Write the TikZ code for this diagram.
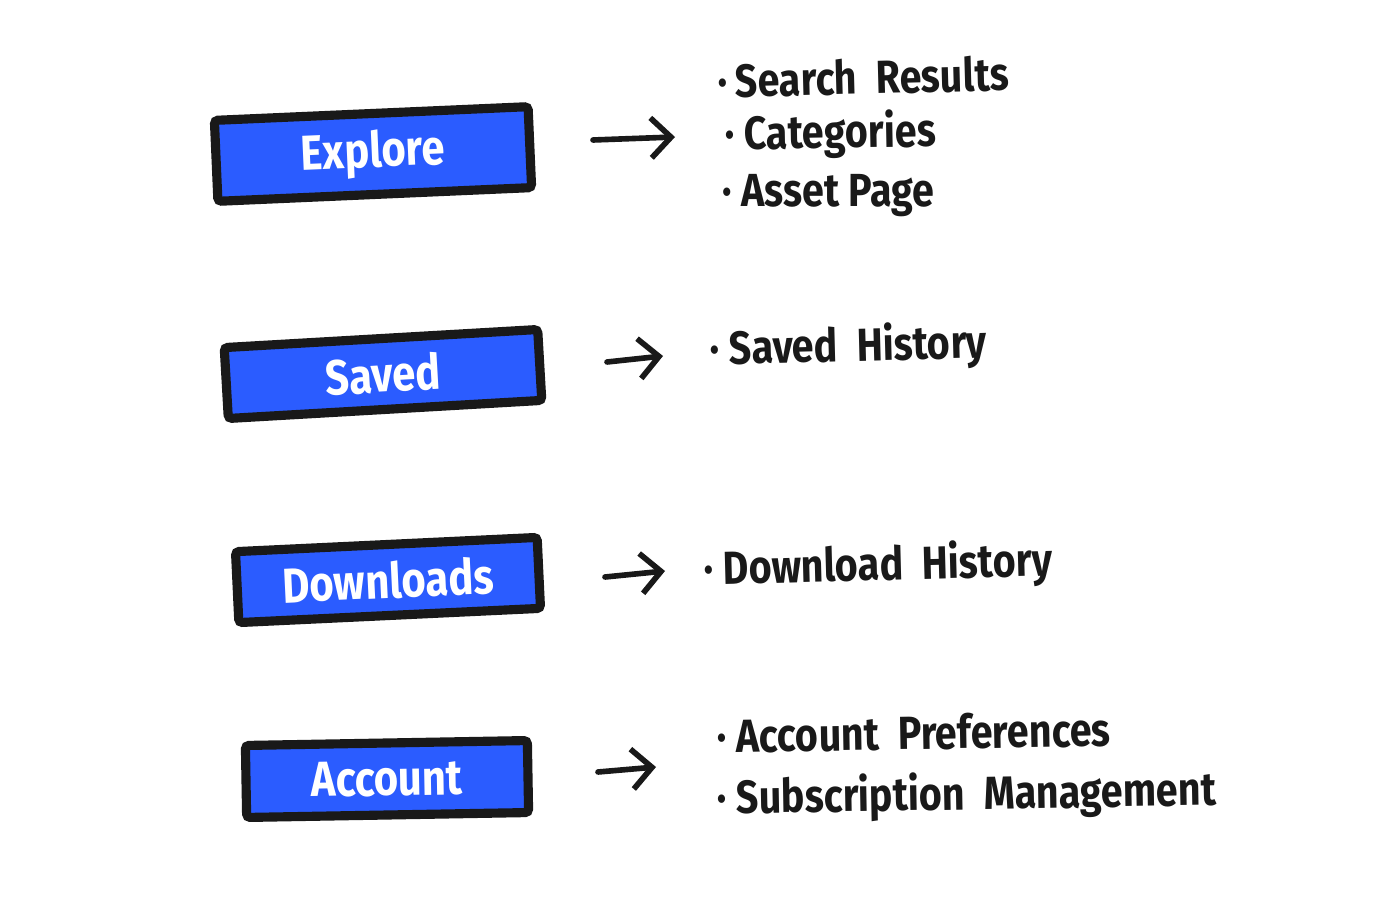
\documentclass[tikz,border=0pt]{standalone}
\usepackage{fontspec}
\usetikzlibrary{arrows.meta}
\newfontfamily\handfont[FakeStretch=0.85]{Fira Sans}
\definecolor{boxblue}{HTML}{2B5CFF}
\tikzset{
  navbox/.style={draw=black!90, fill=boxblue, line width=2.6pt, rounded corners=1pt,
    text=white, font=\handfont\bfseries\fontsize{14}{16}\selectfont, inner sep=0pt},
  item/.style={anchor=base west, inner sep=0pt, text=black!90,
    font=\handfont\bfseries\fontsize{13.2}{15}\selectfont},
  sketcharrow/.style={line width=1.6pt, line cap=round, black!90,
    -{Straight Barb[length=2mm, width=4mm, line width=1.6pt]}}
}
\begin{document}
\begin{tikzpicture}
\useasboundingbox (0,0) rectangle (14,9);
\fill[white] (0,0) rectangle (14,9);
% boxes
\node[navbox, rotate=2.5, minimum width=3.14cm, minimum height=0.81cm] (explore) at (3.73,7.46) {Explore};
\node[navbox, rotate=3.3, minimum width=3.14cm, minimum height=0.71cm] (saved) at (3.83,5.26) {Saved};
\node[navbox, rotate=2.7, minimum width=3.02cm, minimum height=0.71cm] (downloads) at (3.88,3.20) {Downloads};
\node[navbox, rotate=1.0, minimum width=2.82cm, minimum height=0.72cm] (account) at (3.87,1.21) {Account};
% arrows
\coordinate (e1) at (5.93,7.60); \coordinate (e2) at (6.75,7.63);
\coordinate (s1) at (6.07,5.38); \coordinate (s2) at (6.63,5.44);
\coordinate (d1) at (6.05,3.23); \coordinate (d2) at (6.65,3.29);
\coordinate (a1) at (5.98,1.28); \coordinate (a2) at (6.56,1.33);
\draw[sketcharrow] (e1) -- (e2);
\draw[sketcharrow] (s1) -- (s2);
\draw[sketcharrow] (d1) -- (d2);
\draw[sketcharrow] (a1) -- (a2);
% lists
\node[item, rotate=1.5] (t1) at (7.18,8.02) {·\,Search\ \ Results};
\node[item, rotate=1] (t2) at (7.25,7.50) {·\ Categories};
\node[item] (t3) at (7.22,6.93) {·\ Asset Page};
\node[item, rotate=1.5] (t4) at (7.10,5.35) {·\ Saved\ \ History};
\node[item, rotate=1.5] (t5) at (7.04,3.15) {·\ Download\ \ History};
\node[item, rotate=1] (t6) at (7.17,1.47) {·\ Account\ \ Preferences};
\node[item, rotate=1] (t7) at (7.17,0.86) {·\ Subscription\ \ Management};
\end{tikzpicture}
\end{document}
